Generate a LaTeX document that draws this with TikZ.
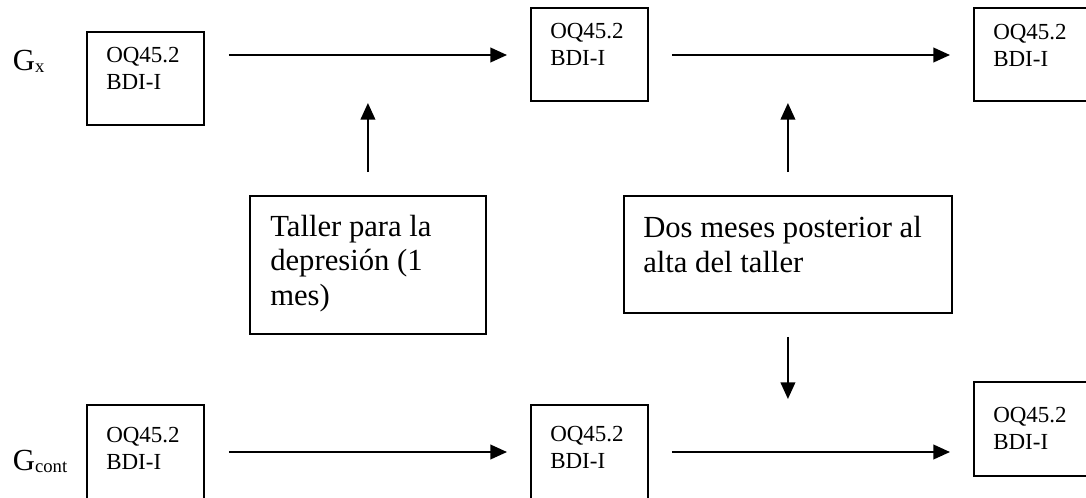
\documentclass[tikz,border=0pt]{standalone}
\usepackage{fontspec}
\setmainfont{Liberation Serif}
\usetikzlibrary{arrows.meta}
\begin{document}
\begin{tikzpicture}[x=0.75pt,y=-0.75pt,
  box/.style={draw, line width=1.4pt, anchor=north west, inner sep=0pt, minimum width=87.75pt, minimum height=69.75pt},
  mbox/.style={draw, line width=1.4pt, anchor=north west, inner sep=0pt},
  btxt/.style={anchor=base west, inner sep=0pt, font=\fontsize{17.25}{20.25}\selectfont},
  mtxt/.style={anchor=base west, inner sep=0pt, font=\fontsize{23}{25.9}\selectfont},
  glab/.style={anchor=base west, inner sep=0pt, font=\fontsize{23}{26}\selectfont},
  arr/.style={line width=1.4pt, -{Triangle[length=12.5pt,width=11pt]}}]
\useasboundingbox (0,0) rectangle (1086,497);
\clip (0,0) rectangle (1086,497);
% group labels
\node[glab] (gx) at (12.7,70) {G\raisebox{-1.5pt}{\fontsize{14}{14}\selectfont x}};
\node[glab] (gc) at (12.7,470) {G\raisebox{-1.5pt}{\fontsize{14}{14}\selectfont cont}};
% measurement boxes
\node[box] (b1) at (86,31) {};
\node[box] (b2) at (530,7) {};
\node[box, minimum height=69.75pt] (b3) at (973,7) {};
\node[box, minimum height=72pt] (b4) at (86,404) {};
\node[box, minimum height=72pt] (b5) at (530,404) {};
\node[box, minimum height=70.5pt] (b6) at (973,381) {};
\node[btxt] (t1) at ([shift={(20,31.7)}]b1.north west) {\begin{tabular}[t]{@{}l@{}}OQ45.2\\BDI-I\end{tabular}};
\node[btxt] (t2) at ([shift={(20,31.5)}]b2.north west) {\begin{tabular}[t]{@{}l@{}}OQ45.2\\BDI-I\end{tabular}};
\node[btxt] (t3) at ([shift={(20,32)}]b3.north west) {\begin{tabular}[t]{@{}l@{}}OQ45.2\\BDI-I\end{tabular}};
\node[btxt] (t4) at ([shift={(20,38.7)}]b4.north west) {\begin{tabular}[t]{@{}l@{}}OQ45.2\\BDI-I\end{tabular}};
\node[btxt] (t5) at ([shift={(20,37.7)}]b5.north west) {\begin{tabular}[t]{@{}l@{}}OQ45.2\\BDI-I\end{tabular}};
\node[btxt] (t6) at ([shift={(20,41)}]b6.north west) {\begin{tabular}[t]{@{}l@{}}OQ45.2\\BDI-I\end{tabular}};
% middle boxes
\node[mbox, minimum width=177pt, minimum height=103.5pt] (m1) at (249,195) {};
\node[mbox, minimum width=246pt, minimum height=87.75pt] (m2) at (623,195) {};
\node[mtxt] (mt1) at ([shift={(21,41)}]m1.north west) {\begin{tabular}[t]{@{}l@{}}Taller para la\\depresión (1\\mes)\end{tabular}};
\node[mtxt] (mt2) at ([shift={(20,42.5)}]m2.north west) {\begin{tabular}[t]{@{}l@{}}Dos meses posterior al\\alta del taller\end{tabular}};
% horizontal arrows
\draw[arr] ([shift={(24,24)}]b1.north east) -- ([shift={(-23,48)}]b2.north west);
\draw[arr] ([shift={(23,48)}]b2.north east) -- ([shift={(-23,48)}]b3.north west);
\draw[arr] ([shift={(24,48)}]b4.north east) -- ([shift={(-23,48)}]b5.north west);
\draw[arr] ([shift={(23,48)}]b5.north east) -- ([shift={(-23,71)}]b6.north west);
% vertical arrows
\coordinate (u1) at (m1.north |- 0,103);
\coordinate (u2) at (m2.north |- 0,103);
\coordinate (d2) at (m2.south |- 0,399);
\draw[arr] ([yshift=17.25pt]m1.north) -- (u1);
\draw[arr] ([yshift=17.25pt]m2.north) -- (u2);
\draw[arr] ([yshift=-17.25pt]m2.south) -- (d2);
\end{tikzpicture}
\end{document}
